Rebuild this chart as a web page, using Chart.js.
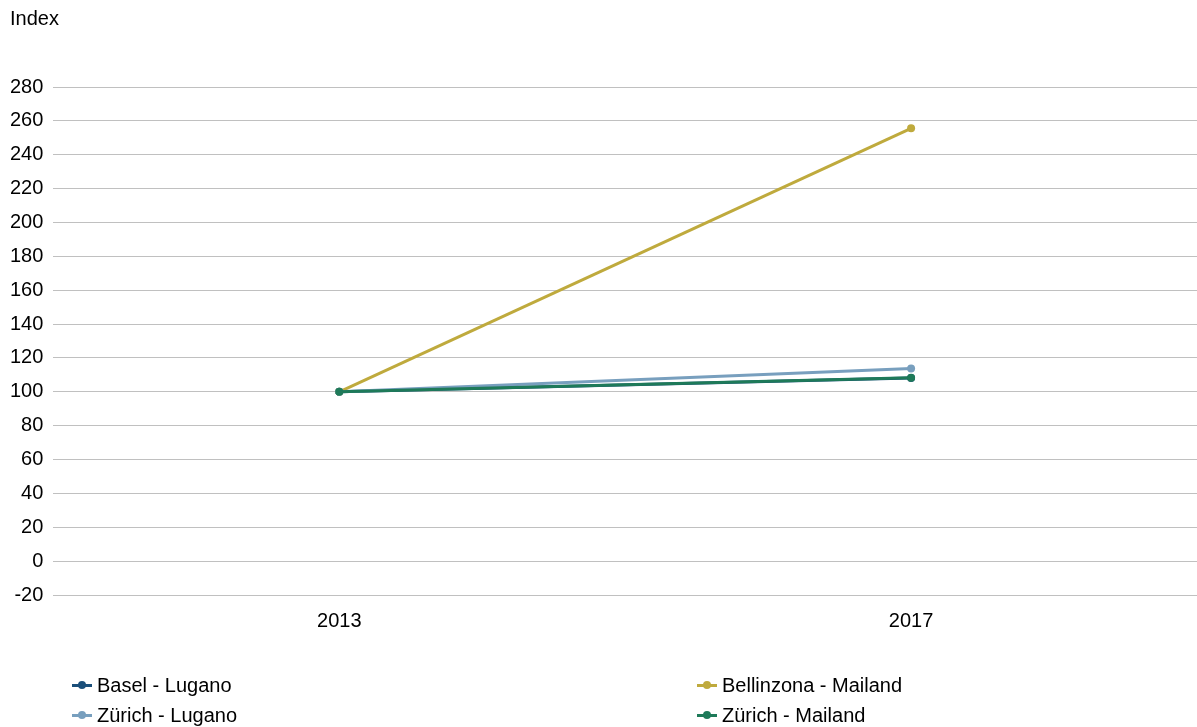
<!DOCTYPE html>
<html>
<head>
<meta charset="utf-8">
<script src="https://cdn.jsdelivr.net/npm/chart.js@4.4.0/dist/chart.umd.min.js"></script>
<style>
  html, body { margin: 0; padding: 0; background: #fff; }
  #wrap { position: relative; width: 1197px; height: 727px; }
  #legend {
    position: absolute; left: 72px; top: 670px;
    display: grid; grid-template-columns: 625px 400px; row-gap: 0;
    font-family: "Liberation Sans", Arial, sans-serif; font-size: 20px; color: #000;
  }
  .item { display: flex; align-items: center; height: 30px; }
  .mark { position: relative; width: 20px; height: 3px; margin-right: 5px; }
  .mark i { position: absolute; left: 6px; top: -2.5px; width: 8px; height: 8px; border-radius: 50%; }
</style>
</head>
<body>
<div id="wrap">
  <canvas id="chart" width="1197" height="727"></canvas>
  <div id="legend"></div>
</div>
<script>
const years = ["2013", "2017"];

const baselLugano = [100, 108.2];
const bellinzonaMailand = [100, 255.6];
const zuerichLugano = [100, 113.7];
const zuerichMailand = [100, 108.3];

const yTicks = { min: -20, max: 280, step: 20 };

const font = "'Liberation Sans', Arial, sans-serif";

const series = [
  { label: "Basel - Lugano", data: baselLugano, color: "#1b4f7a", order: 3 },
  { label: "Bellinzona - Mailand", data: bellinzonaMailand, color: "#bfaa3d", order: 2 },
  { label: "Zürich - Lugano", data: zuerichLugano, color: "#789fbe", order: 1 },
  { label: "Zürich - Mailand", data: zuerichMailand, color: "#1e7a59", order: 0 }
];

// unit label above the value axis, flush with the left edge
const unitLabel = {
  id: "unitLabel",
  afterDraw(c) {
    const ctx = c.ctx;
    ctx.save();
    ctx.font = "20px " + font;
    ctx.fillStyle = "#000";
    ctx.textBaseline = "middle";
    ctx.fillText("Index", 10, 19);
    ctx.restore();
  }
};

const chart = new Chart(document.getElementById("chart"), {
  type: "line",
  data: {
    labels: years,
    datasets: series.map((s) => ({
      label: s.label,
      data: s.data,
      order: s.order,
      borderColor: s.color,
      backgroundColor: s.color,
      borderWidth: 3,
      pointRadius: 4,
      pointBorderWidth: 0,
      tension: 0
    }))
  },
  options: {
    responsive: false,
    animation: false,
    layout: { autoPadding: false, padding: { left: 0, right: 0, top: 87, bottom: 80 } },
    plugins: {
      legend: { display: false },
      tooltip: { enabled: false },
      title: { display: false }
    },
    scales: {
      x: {
        offset: true,
        grid: { display: false, drawTicks: false },
        border: { display: false },
        ticks: { color: "#000", padding: 14, font: { family: font, size: 20 } }
      },
      y: {
        min: yTicks.min,
        max: yTicks.max,
        grid: { color: "#c0c0c0", lineWidth: 1, drawTicks: false },
        border: { display: false },
        ticks: {
          stepSize: yTicks.step,
          color: "#000",
          padding: 10,
          font: { family: font, size: 20 }
        }
      }
    }
  },
  plugins: [unitLabel]
});

// two-column legend under the plot, row by row
const legend = document.getElementById("legend");
series.forEach((s) => {
  const item = document.createElement("div");
  item.className = "item";
  item.innerHTML =
    '<span class="mark" style="background:' + s.color + '"><i style="background:' +
    s.color + '"></i></span><span>' + s.label + "</span>";
  legend.appendChild(item);
});
</script>
</body>
</html>
